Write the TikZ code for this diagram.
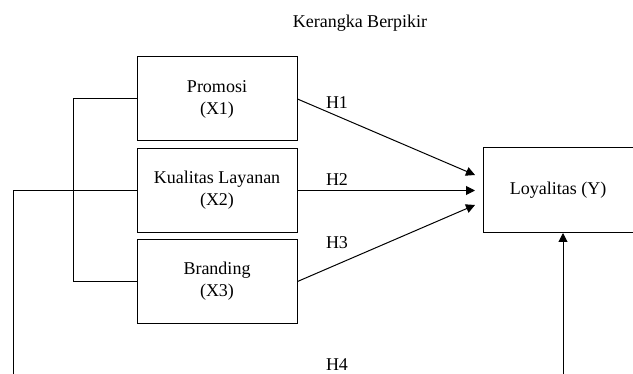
\documentclass[tikz,border=0pt]{standalone}
\usepackage{fontspec}
\setmainfont{Liberation Serif}
\usetikzlibrary{arrows.meta}
\begin{document}
\begin{tikzpicture}[x=1pt,y=-1pt,
  box/.style={draw,line width=1pt,minimum width=160pt,minimum height=84pt,align=center,inner sep=0pt,font=\fontsize{18}{22}\selectfont},
  lbl/.style={font=\fontsize{18}{22}\selectfont,inner sep=0pt},
  conn/.style={line width=1pt},
  arr/.style={line width=1pt,-{Triangle[length=9pt,width=9pt]}}]
\useasboundingbox (0,0) rectangle (633,374);
\node[lbl] (title) at (360,23) {Kerangka Berpikir};
\node[box] (x1) at (217,99) {Promosi\\(X1)};
\node[box] (x2) at (217,190.5) {Kualitas Layanan\\(X2)};
\node[box] (x3) at (217,281.5) {Branding\\(X3)};
\node[box,minimum width=150pt,minimum height=85pt] (y) at (558,190.5) {Loyalitas (Y)};
\coordinate (t1) at (475,175);
\coordinate (t2) at (475,190.5);
\coordinate (t3) at (475,205);
\coordinate (bk) at (73,99);
\coordinate (lx) at (13,190.5);
\coordinate (lb) at (13,380);
\coordinate (vb) at (563,380);
\coordinate (vt) at (563,233);
\draw[conn] (x1.west) -- (bk) |- (x3.west);
\draw[conn] (x2.west) -- (lx) -- (lb);
\draw[arr] (x1.east) -- (t1);
\draw[arr] (x2.east) -- (t2);
\draw[arr] (x3.east) -- (t3);
\draw[arr] (vb) -- (vt);
\node[lbl] (h1) at (337,103) {H1};
\node[lbl] (h2) at (337,180) {H2};
\node[lbl] (h3) at (337,243) {H3};
\node[lbl] (h4) at (337,365) {H4};
\end{tikzpicture}
\end{document}
